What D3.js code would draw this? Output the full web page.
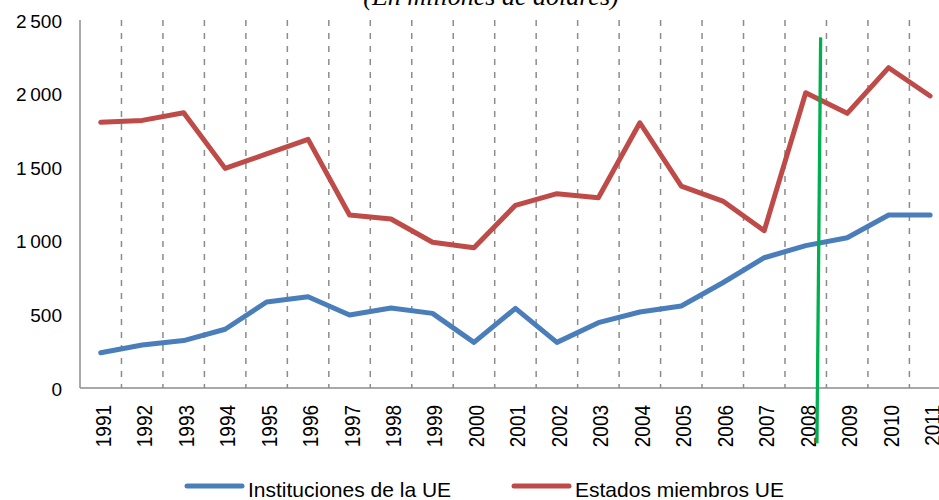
<!DOCTYPE html>
<html>
<head>
<meta charset="utf-8">
<script src="https://cdn.jsdelivr.net/npm/d3@7"></script>
<style>
  body { margin: 0; background: #fff; }
  svg { display: block; }
  text { font-family: "Liberation Sans", Arial, sans-serif; fill: #000; }
</style>
</head>
<body>
<svg width="939" height="500"></svg>
<script>
// chart data
var years = ["1991","1992","1993","1994","1995","1996","1997","1998","1999","2000",
             "2001","2002","2003","2004","2005","2006","2007","2008","2009","2010","2011"];
var instituciones = [240, 292, 322, 399, 584, 620, 496, 543, 507, 310,
                     541, 310, 444, 516, 557, 715, 885, 967, 1021, 1175, 1175];
var estados = [1805, 1818, 1870, 1492, 1590, 1689, 1175, 1148, 990, 953,
               1241, 1320, 1293, 1802, 1372, 1270, 1069, 2006, 1866, 2176, 1984];
var yTicks = [0, 500, 1000, 1500, 2000, 2500];
var seriesNames = ["Instituciones de la UE", "Estados miembros UE"];
// green marker line: year, position in band (top, bottom), values (top, bottom)
var marker = {year: "2008", fracTop: 0.86, fracBottom: 0.77, top: 2382, bottom: -376};

var margin = {top: 20, left: 80};
var step = 41.47;
var plotHeight = 368;

var svg = d3.select("svg");

var x = d3.scaleBand()
          .domain(years)
          .range([margin.left, margin.left + step * years.length])
          .padding(0);
var y = d3.scaleLinear()
          .domain([0, 2500])
          .range([margin.top + plotHeight, margin.top]);

var fmt = d3.formatLocale({decimal: ",", thousands: "\u2009", grouping: [3], currency: ["", ""]}).format(",d");

// title (cut off at the top)
svg.append("text")
   .attr("x", 491)
   .attr("y", 5)
   .attr("text-anchor", "middle")
   .style("font-family", "'Liberation Serif', 'Times New Roman', serif")
   .style("font-style", "italic")
   .style("font-size", "26px")
   .text("(En millones de dólares)");

// dashed vertical gridlines between categories
svg.append("g")
   .selectAll("line")
   .data(years.slice(1))
   .enter()
   .append("line")
   .attr("x1", d => x(d))
   .attr("x2", d => x(d))
   .attr("y1", y(2500))
   .attr("y2", y(0))
   .attr("stroke", "#8c8c8c")
   .attr("stroke-width", 1.5)
   .attr("stroke-dasharray", "6,7");

// axes lines
svg.append("line")
   .attr("x1", margin.left).attr("x2", margin.left)
   .attr("y1", y(2500)).attr("y2", y(0))
   .attr("stroke", "#8c8c8c").attr("stroke-width", 1.5);
svg.append("line")
   .attr("x1", margin.left).attr("x2", 939)
   .attr("y1", y(0)).attr("y2", y(0))
   .attr("stroke", "#8c8c8c").attr("stroke-width", 1.5);

// y tick labels
svg.append("g")
   .selectAll("text")
   .data(yTicks)
   .enter()
   .append("text")
   .attr("x", 62)
   .attr("y", d => y(d))
   .attr("dy", "0.4em")
   .attr("text-anchor", "end")
   .style("font-size", "19px")
   .text(d => fmt(d));

// x tick labels, rotated
svg.append("g")
   .selectAll("text")
   .data(years)
   .enter()
   .append("text")
   .attr("transform", d => "translate(" + (x(d) + x.bandwidth() / 2 + 2) + "," + 405 + ") scale(1.2,1) rotate(-90)")
   .attr("dy", "0.35em")
   .attr("text-anchor", "end")
   .style("font-size", "19px")
   .text(d => d);

// series lines
var line = d3.line()
             .x((d, i) => x(years[i]) + x.bandwidth() / 2)
             .y(d => y(d));

svg.append("path")
   .datum(instituciones)
   .attr("d", line)
   .attr("fill", "none")
   .attr("stroke", "#4a7ebb")
   .attr("stroke-width", 5)
   .attr("stroke-linejoin", "round")
   .attr("stroke-linecap", "round");

svg.append("path")
   .datum(estados)
   .attr("d", line)
   .attr("fill", "none")
   .attr("stroke", "#be4b48")
   .attr("stroke-width", 5)
   .attr("stroke-linejoin", "round")
   .attr("stroke-linecap", "round");

// green marker
svg.append("line")
   .attr("x1", x(marker.year) + marker.fracTop * step)
   .attr("x2", x(marker.year) + marker.fracBottom * step)
   .attr("y1", y(marker.top))
   .attr("y2", y(marker.bottom))
   .attr("stroke", "#00b050")
   .attr("stroke-width", 3.3);

// legend
var legendX = [187, 514];
var legendColors = ["#4a7ebb", "#be4b48"];
var legend = svg.append("g")
                .selectAll("g")
                .data(seriesNames)
                .enter()
                .append("g")
                .attr("transform", (d, i) => "translate(" + legendX[i] + ",486)");
legend.append("line")
      .attr("x1", 0).attr("x2", 55)
      .attr("y1", 0).attr("y2", 0)
      .attr("stroke", (d, i) => legendColors[i])
      .attr("stroke-width", 5)
      .attr("stroke-linecap", "round");
legend.append("text")
      .attr("x", 61)
      .attr("y", 11)
      .style("font-size", "21px")
      .text(d => d);
</script>
</body>
</html>
